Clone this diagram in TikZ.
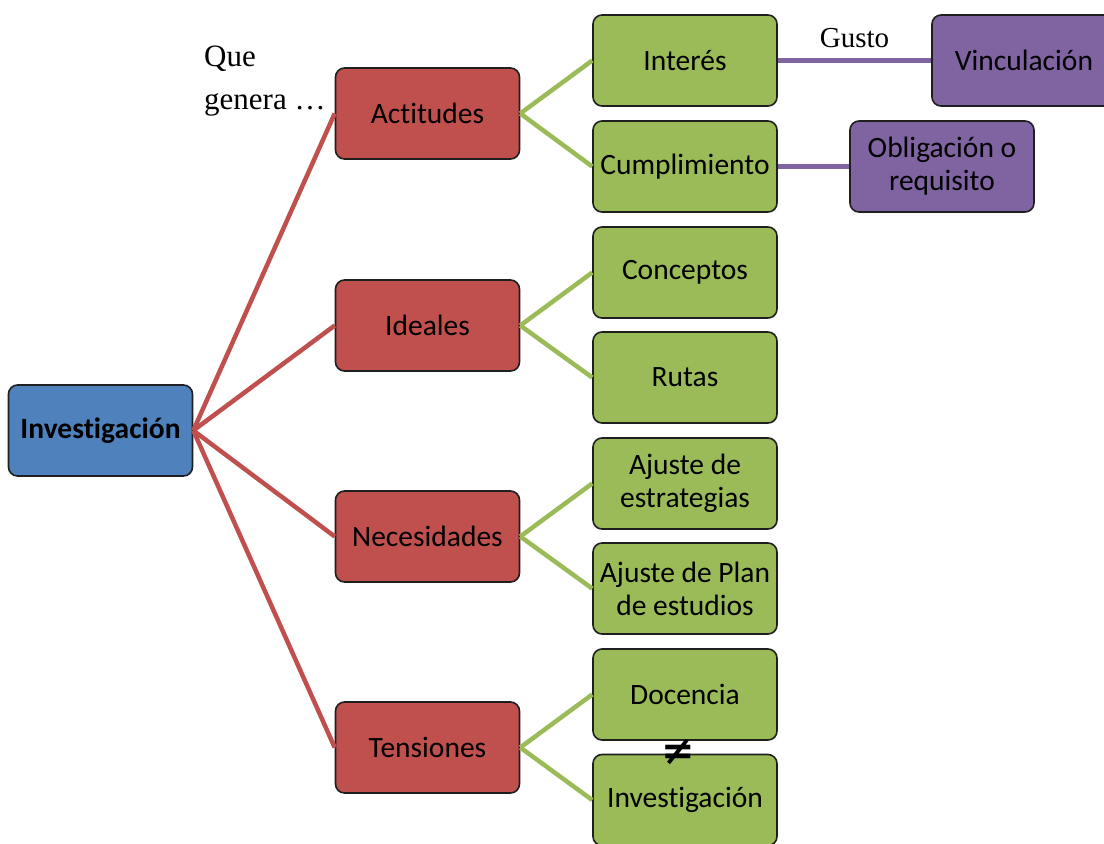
\documentclass[tikz,border=0pt]{standalone}
\usepackage{fontspec}
\setmainfont[Ligatures=NoCommon]{Carlito}
\newfontfamily\serifface{Liberation Serif}
\newfontfamily\symface{DejaVu Sans}
\definecolor{cblue}{HTML}{4F81BD}
\definecolor{cred}{HTML}{C0504D}
\definecolor{cgreen}{HTML}{9BBB59}
\definecolor{cpurple}{HTML}{8064A2}
\definecolor{cborder}{HTML}{1F1F1F}
\begin{document}
\begin{tikzpicture}[x=1pt,y=-1pt,
  box/.style={draw=cborder, line width=1.6pt, rounded corners=9pt, minimum width=184pt, minimum height=91pt, inner sep=2pt, align=center, font=\fontsize{29.5}{33}\selectfont},
  rootbox/.style={box, fill=cblue, font=\fontsize{29.5}{33}\selectfont\bfseries},
  redbox/.style={box, fill=cred},
  greenbox/.style={box, fill=cgreen},
  purplebox/.style={box, fill=cpurple},
  redline/.style={draw=cred, line width=4.5pt},
  greenline/.style={draw=cgreen, line width=4.5pt},
  purpleline/.style={draw=cpurple, line width=4.5pt},
  serif/.style={font=\serifface\fontsize{31}{43}\selectfont, align=left, inner sep=0pt}
]
\useasboundingbox (0,0) rectangle (1104,844);
\node[rootbox] (inv) at (100.5,430.5) {Investigación};
\node[redbox] (act) at (427.5,113.5) {Actitudes};
\node[redbox] (ide) at (427.5,325.5) {Ideales};
\node[redbox] (nec) at (427.5,536.5) {Necesidades};
\node[redbox] (ten) at (427.5,747.5) {Tensiones};
\node[greenbox] (intr) at (685,60.5) {Interés};
\node[greenbox] (cum) at (685,166.5) {Cumplimiento};
\node[greenbox] (con) at (685,272.5) {Conceptos};
\node[greenbox] (rut) at (685,377.5) {Rutas};
\node[greenbox] (aje) at (685,483.5) {Ajuste de\\estrategias};
\node[greenbox] (ajp) at (685,588.5) {Ajuste de Plan\\de estudios};
\node[greenbox] (doc) at (685,694.5) {Docencia};
\node[greenbox] (ginv) at (685,800) {Investigación};
\node[purplebox] (vin) at (1024,60.5) {Vinculación};
\node[purplebox] (obl) at (942,166.5) {Obligación o\\requisito};
\foreach \r in {act,ide,nec,ten} \draw[redline] (inv.east) -- (\r.west);
\draw[greenline] (act.east) -- (intr.west);
\draw[greenline] (act.east) -- (cum.west);
\draw[greenline] (ide.east) -- (con.west);
\draw[greenline] (ide.east) -- (rut.west);
\draw[greenline] (nec.east) -- (aje.west);
\draw[greenline] (nec.east) -- (ajp.west);
\draw[greenline] (ten.east) -- (doc.west);
\draw[greenline] (ten.east) -- (ginv.west);
\draw[purpleline] (intr.east) -- node[pos=0.5, above=10pt, serif, font=\serifface\fontsize{29}{35}\selectfont] (gusto) {Gusto} (vin.west);
\draw[purpleline] (cum.east) -- (obl.west);
\node[serif, anchor=north west] (que) at (204,46) {Que\\genera \dots};
\node[font=\symface\bfseries\fontsize{40}{44}\selectfont, inner sep=0pt] (neq) at (678,752) {≠};
\end{tikzpicture}
\end{document}
